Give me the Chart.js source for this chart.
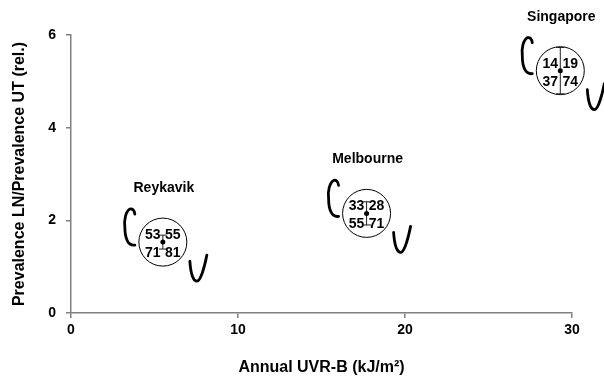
<!DOCTYPE html>
<html>
<head>
<meta charset="utf-8">
<script src="https://cdn.jsdelivr.net/npm/chart.js@4/dist/chart.umd.min.js"></script>
<style>
  html, body { margin: 0; padding: 0; background: #fff; }
  #wrap { width: 604px; height: 378px; }
</style>
</head>
<body>
<div id="wrap"><canvas id="chart" width="604" height="378"></canvas></div>
<script>
// data
var cities = ['Reykavik', 'Melbourne', 'Singapore'];
var uvrb = [5.5, 17.7, 29.3];          // annual UVR-B, kJ/m2
var ratio = [1.53, 2.15, 5.23];        // prevalence LN / prevalence UT
var err = [0.15, 0.25, 0.5];
var countsTop = [['53', '55'], ['33', '28'], ['14', '19']];
var countsBottom = [['71', '81'], ['55', '71'], ['37', '74']];
var xTicks = [0, 10, 20, 30];
var yTicks = [0, 2, 4, 6];

var FONT = 'Arial, "Liberation Sans", sans-serif';

var points = [];
for (var i = 0; i < cities.length; i++) {
  points.push({x: uvrb[i], y: ratio[i]});
}

// draws the numbers, error bars, dots, city names and the C / V marks
var decor = {
  id: 'decor',
  afterDatasetsDraw: function(chart) {
    var ctx = chart.ctx;
    var xs = chart.scales.x, ys = chart.scales.y;
    ctx.save();
    for (var i = 0; i < cities.length; i++) {
      var px = xs.getPixelForValue(uvrb[i]);
      var py = ys.getPixelForValue(ratio[i]);

      ctx.fillStyle = '#000';
      ctx.textAlign = 'center';
      ctx.textBaseline = 'middle';
      ctx.font = 'bold 14px ' + FONT;
      ctx.fillText(countsTop[i][0], px - 10, py - 7);
      ctx.fillText(countsTop[i][1], px + 10, py - 7);
      ctx.fillText(countsBottom[i][0], px - 10, py + 11);
      ctx.fillText(countsBottom[i][1], px + 10, py + 11);

      // error bar
      var top = ys.getPixelForValue(ratio[i] + err[i]);
      var bot = ys.getPixelForValue(ratio[i] - err[i]);
      ctx.strokeStyle = '#222';
      ctx.lineWidth = 1;
      ctx.beginPath();
      ctx.moveTo(px, top); ctx.lineTo(px, bot);
      ctx.moveTo(px - 4, top); ctx.lineTo(px + 4, top);
      ctx.moveTo(px - 4, bot); ctx.lineTo(px + 4, bot);
      ctx.stroke();

      ctx.beginPath();
      ctx.arc(px, py, 2.5, 0, Math.PI * 2);
      ctx.fill();

      // city name
      ctx.font = 'bold 14px ' + FONT;
      ctx.fillText(cities[i], px + 1, py - 54);

      // C mark
      ctx.lineWidth = 2.8;
      ctx.lineCap = 'round';
      ctx.strokeStyle = '#000';
      var cx = px - 33, ct = py - 34, cb = py + 4;
      ctx.beginPath();
      ctx.moveTo(cx + 5, ct + 6);
      ctx.quadraticCurveTo(cx + 4, ct, cx, ct + 1);
      ctx.bezierCurveTo(cx - 4, ct + 3, cx - 6, ct + 12, cx - 5, (ct + cb) / 2);
      ctx.bezierCurveTo(cx - 5, cb - 8, cx - 2, cb, cx + 5, cb - 1);
      ctx.stroke();

      // V mark
      var x0 = px + 27, x1 = px + 44, vt = py + 13, vb = py + 39;
      ctx.beginPath();
      ctx.moveTo(x0, vt + 6);
      ctx.bezierCurveTo(x0 + 1, vb - 5, x0 + 4, vb, x0 + 7, vb);
      ctx.bezierCurveTo(x0 + 11, vb, x1 - 2, vt + 10, x1, vt);
      ctx.stroke();
    }
    ctx.restore();
  }
};

var ctx = document.getElementById('chart').getContext('2d');
var chart = new Chart(ctx, {
  type: 'scatter',
  data: {
    datasets: [{
      data: points,
      pointRadius: 24,
      pointHoverRadius: 24,
      borderColor: '#000',
      borderWidth: 1,
      backgroundColor: 'rgba(255,255,255,0)',
      clip: false
    }]
  },
  options: {
    responsive: false,
    animation: false,
    events: [],
    layout: { padding: { top: 35, right: 32, left: 6, bottom: 0 } },
    plugins: { legend: { display: false }, tooltip: { enabled: false } },
    scales: {
      x: {
        type: 'linear',
        min: 0, max: 30,
        afterBuildTicks: function(s) { s.ticks = xTicks.map(function(v) { return {value: v}; }); },
        afterFit: function(s) { s.height = 378 - 313; },
        grid: { drawOnChartArea: false, drawTicks: true, tickLength: 5, color: '#808080', lineWidth: 1.5 },
        border: { color: '#808080', width: 1.5 },
        ticks: { color: '#000', font: { family: FONT, size: 14, weight: 'bold' }, padding: 4 },
        title: { display: true, text: 'Annual UVR-B (kJ/m\u00b2)', color: '#000',
                 font: { family: FONT, size: 16, weight: 'bold' }, padding: { top: 14, bottom: 1 } }
      },
      y: {
        type: 'linear',
        min: 0, max: 6,
        afterBuildTicks: function(s) { s.ticks = yTicks.map(function(v) { return {value: v}; }); },
        afterFit: function(s) { s.width = 71 - 6; },
        grid: { drawOnChartArea: false, drawTicks: true, tickLength: 5, color: '#808080', lineWidth: 1.5 },
        border: { color: '#808080', width: 1.5 },
        ticks: { color: '#000', font: { family: FONT, size: 14, weight: 'bold' }, padding: 10 },
        title: { display: true, text: 'Prevalence LN/Prevalence UT (rel.)', color: '#000',
                 font: { family: FONT, size: 16, weight: 'bold' }, padding: { bottom: 6 } }
      }
    }
  },
  plugins: [decor]
});
</script>
</body>
</html>
